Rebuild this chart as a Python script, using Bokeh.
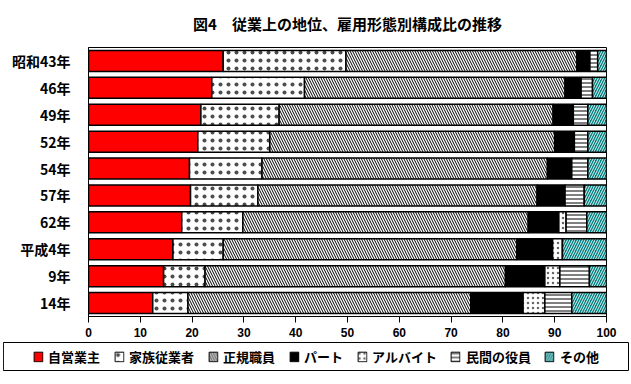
from bokeh.plotting import figure
from bokeh.models import FactorRange, Range1d, Legend, LegendItem, ColumnDataSource, FixedTicker
from bokeh.embed import file_html
from bokeh.resources import INLINE

title_text = "図4　従業上の地位、雇用形態別構成比の推移"
years = ["昭和43年", "46年", "49年", "52年", "54年", "57年", "62年", "平成4年", "9年", "14年"]
series = ["自営業主", "家族従業者", "正規職員", "パート", "アルバイト", "民間の役員", "その他"]

jieigyo   = [26.0, 23.8, 21.7, 21.1, 19.5, 19.7, 18.0, 16.3, 14.5, 12.4]
kazoku    = [23.7, 17.9, 15.1, 13.9, 14.0, 13.0, 11.8,  9.7,  8.0,  6.8]
seiki     = [44.6, 50.3, 52.9, 55.0, 55.1, 53.9, 55.1, 56.7, 58.0, 54.6]
part      = [ 2.5,  3.1,  3.9,  3.8,  4.7,  5.4,  5.9,  6.9,  7.6, 10.1]
arubaito  = [ 0.0,  0.0,  0.0,  0.0,  0.0,  0.0,  1.4,  1.9,  2.9,  4.2]
yakuin    = [ 1.5,  2.2,  2.8,  2.6,  3.1,  3.7,  4.0,  0.0,  5.7,  5.2]
sonota    = [ 1.7,  2.7,  3.6,  3.6,  3.6,  4.3,  3.8,  8.5,  3.3,  6.7]
x_ticks = [0, 10, 20, 30, 40, 50, 60, 70, 80, 90, 100]

values = [jieigyo, kazoku, seiki, part, arubaito, yakuin, sonota]
styles = [
    dict(fill_color="#FF0000", hatch_pattern=None),
    dict(fill_color="white", hatch_pattern="dot", hatch_color="black", hatch_scale=8, hatch_weight=0.5, hatch_alpha=0.7),
    dict(fill_color="white", hatch_pattern="\\", hatch_color="black", hatch_scale=5, hatch_weight=1),
    dict(fill_color="black", hatch_pattern=None),
    dict(fill_color="white", hatch_pattern="dot", hatch_color="black", hatch_scale=5, hatch_weight=0.5, hatch_alpha=0.6),
    dict(fill_color="white", hatch_pattern="-", hatch_color="black", hatch_scale=4, hatch_weight=1),
    dict(fill_color="#008080", hatch_pattern="/", hatch_color="white", hatch_scale=5, hatch_weight=0.9),
]

p = figure(y_range=FactorRange(factors=list(reversed(years))), x_range=Range1d(0, 100),
           width=631, height=341, output_backend="svg", toolbar_location=None,
           title=title_text, min_border_left=88, min_border_right=25,
           min_border_top=45, min_border_bottom=25)

p.title.text_font = "Noto Sans CJK JP"
p.title.text_font_size = "15px"
p.title.text_font_style = "bold"
p.title.text_color = "black"
p.title.align = "center"
p.title.vertical_align = "top"
p.title.standoff = 24

# legend-only figure: same bars, but its x range lies beyond the data so only the legend shows
p2 = figure(x_range=Range1d(200, 300), y_range=FactorRange(factors=list(reversed(years))),
            width=631, height=30, output_backend="svg", toolbar_location=None,
            min_border_left=3, min_border_right=3, min_border_top=1, min_border_bottom=1)
p2.axis.visible = False
p2.grid.visible = False
p2.outline_line_color = "black"
p2.outline_line_width = 1

cum = [0.0] * len(years)
items = []
for name, vals, st in zip(series, values, styles):
    left = list(cum)
    right = [a + b for a, b in zip(cum, vals)]
    cum = right
    src = ColumnDataSource(dict(y=years, left=left, right=right))
    kw = {k: v for k, v in st.items() if v is not None}
    p.hbar(y="y", left="left", right="right", height=0.78, source=src,
           line_color="black", line_width=1.5, **kw)
    r2 = p2.hbar(y="y", left="left", right="right", height=0.78, source=src,
                 line_color="black", line_width=1, **kw)
    items.append(LegendItem(label=name, renderers=[r2]))

legend = Legend(items=items, orientation="horizontal", location="center")
legend.label_text_font = "Noto Sans CJK JP"
legend.label_text_font_size = "13px"
legend.label_text_font_style = "bold"
legend.label_text_color = "black"
legend.glyph_width = 11
legend.glyph_height = 12
legend.label_standoff = 5
legend.spacing = 13
legend.padding = 2
legend.margin = 0
legend.border_line_color = None
legend.background_fill_alpha = 0
legend.label_height = 12
p2.add_layout(legend)

p.xgrid.visible = False
p.ygrid.visible = False
p.outline_line_color = "black"
p.outline_line_width = 1

p.xaxis.ticker = FixedTicker(ticks=x_ticks)
p.xaxis.minor_tick_line_color = None
p.xaxis.major_tick_out = 6
p.xaxis.major_tick_in = 0
p.xaxis.major_label_standoff = 5
p.xaxis.major_label_text_font = "Liberation Sans"
p.xaxis.major_label_text_font_size = "12px"
p.xaxis.major_label_text_font_style = "bold"
p.xaxis.major_label_text_color = "black"
p.xaxis.axis_line_color = "black"

p.yaxis.major_tick_line_color = None
p.yaxis.minor_tick_line_color = None
p.yaxis.major_label_standoff = 12
p.yaxis.major_label_text_font = "Noto Sans CJK JP"
p.yaxis.major_label_text_font_size = "14px"
p.yaxis.major_label_text_font_style = "bold"
p.yaxis.major_label_text_color = "black"
p.yaxis.axis_line_color = "black"

open("out.html", "w").write(file_html([p, p2], INLINE))
